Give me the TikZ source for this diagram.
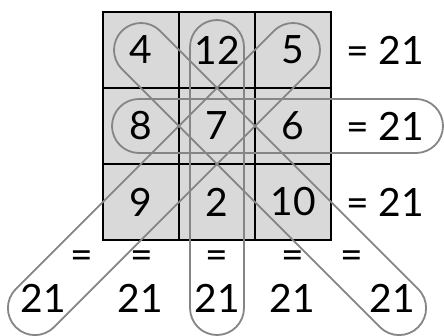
\documentclass[tikz,border=0pt]{standalone}
\usepackage{fontspec}
\setmainfont{Lato}
\usetikzlibrary{calc}
\definecolor{cellfill}{HTML}{D9D9D9}
\definecolor{loopgray}{HTML}{858585}
\newcommand\numfont{\fontsize{39}{43}\selectfont}

\begin{document}
\begin{tikzpicture}[
  x=1pt, y=-1pt,
  cell/.style={
    rectangle, draw=black, line width=1.4pt, fill=cellfill,
    minimum size=76pt, inner sep=0pt, font=\numfont,
  },
  num/.style={inner sep=0pt, font=\numfont},
  sumloop/.style={draw=loopgray, line width=1.8pt, rounded corners=27pt},
]
  \useasboundingbox (0,0) rectangle (444,336);

  % the square
  \node[cell] (c11) at (141,50) {4};
  \node[cell] (c12) at (217,50) {12};
  \node[cell] (c13) at (293,50) {5};
  \node[cell] (c21) at (141,126) {8};
  \node[cell] (c22) at (217,126) {7};
  \node[cell] (c23) at (293,126) {6};
  \node[cell] (c31) at (141,202) {9};
  \node[cell] (c32) at (217,202) {2};
  \node[cell] (c33) at (293,202) {10};

  % row sums
  \node[num] (row1) at (385,50) {= 21};
  \node[num] (row2) at (385,126) {= 21};
  \node[num] (row3) at (385,202) {= 21};

  % column and diagonal sums
  \node[num] (eqd2) at (82,260) {=};
  \node[num] (eqc1) at (142,260) {=};
  \node[num] (eqc2) at (217,260) {=};
  \node[num] (eqc3) at (293,260) {=};
  \node[num] (eqd1) at (352,260) {=};
  \node[num] (sumd2) at (43,298) {21};
  \node[num] (sumc1) at (140,298) {21};
  \node[num] (sumc2) at (217,298) {21};
  \node[num] (sumc3) at (292,298) {21};
  \node[num] (sumd1) at (392,298) {21};

  % loops
  \draw[sumloop, shift={(c21.center)}] (-29,-27) rectangle (302,27);
  \draw[sumloop, shift={(c12.center)}, rotate=-90] (-30,-27) rectangle (285,27);
  \draw[sumloop, shift={(c11.center)}, rotate=-45] (-27,-27) rectangle (392,27);
  \draw[sumloop, shift={(c13.center)}, rotate=-135] (-27,-27) rectangle (392,27);
\end{tikzpicture}
\end{document}
